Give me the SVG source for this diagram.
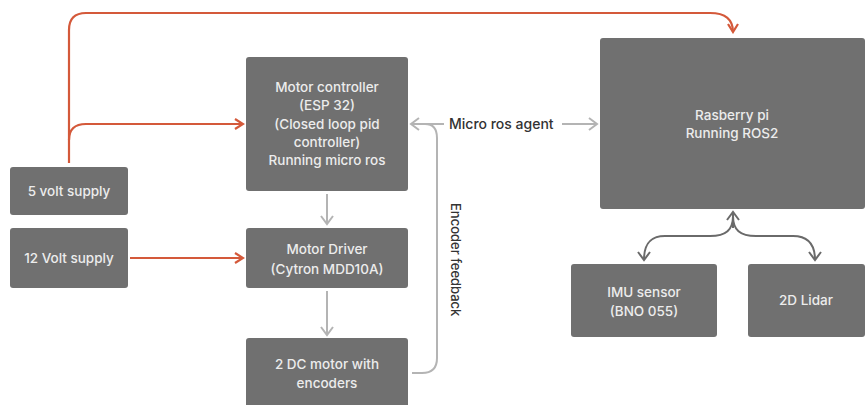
<svg xmlns="http://www.w3.org/2000/svg" width="867" height="405" viewBox="0 0 867 405">
<defs>
<style>
.box{fill:#707070}
.t{font-family:"Inter","Liberation Sans",sans-serif;font-size:13.5px;font-weight:500;fill:#ececec;text-anchor:middle}
.lbl{font-family:"Inter","Liberation Sans",sans-serif;font-size:14px;font-weight:500;fill:#333}
.or{fill:none;stroke:#d4593a;stroke-width:2.2}
.gr{fill:none;stroke:#b4b4b4;stroke-width:2}
.dk{fill:none;stroke:#6a6a6a;stroke-width:2}
</style>
<marker id="ao" markerWidth="12" markerHeight="12" refX="10" refY="6" orient="auto" markerUnits="userSpaceOnUse"><path d="M2,1 L10,6 L2,11" fill="none" stroke="#d4593a" stroke-width="2.2"/></marker>
<marker id="ag" markerWidth="14" markerHeight="14" refX="11" refY="7" orient="auto" markerUnits="userSpaceOnUse"><path d="M3,1 L11,7 L3,13" fill="none" stroke="#b4b4b4" stroke-width="2"/></marker>
<marker id="ad" markerWidth="14" markerHeight="14" refX="11" refY="7" orient="auto" markerUnits="userSpaceOnUse"><path d="M3,1 L11,7 L3,13" fill="none" stroke="#6a6a6a" stroke-width="2"/></marker>
</defs>
<rect width="867" height="405" fill="#ffffff"/>
<g id="connectors">
<path class="or" d="M69,163 L69,30 Q69,13 86,13 L710,13 Q733,13 733,32" marker-end="url(#ao)"/>
<path class="or" d="M69,140 Q69,124 86,124 L243,124" marker-end="url(#ao)"/>
<path class="or" d="M130,258 L243,258" marker-end="url(#ao)"/>
<path class="gr" d="M327,194 L327,224" marker-end="url(#ag)"/>
<path class="gr" d="M327,291 L327,335" marker-end="url(#ag)"/>
<path class="gr" d="M412,373 L422,373 Q437,373 437,358 L437,138 Q437,124 425,124 L411,124" marker-end="url(#ag)"/>
<path class="gr" d="M444,124 L413,124"/>
<path class="gr" d="M562,124 L597,124" marker-end="url(#ag)"/>
<path class="dk" d="M733,228 L733,212" marker-end="url(#ad)"/>
<path class="dk" d="M733,216 C733,230 726,236 710,236 L665,236 C651,236 644,243 644,260" marker-end="url(#ad)"/>
<path class="dk" d="M733,216 C733,230 740,236 756,236 L793,236 C807,236 815,243 815,260" marker-end="url(#ad)"/>
<text class="lbl" x="449" y="129">Micro ros agent</text>
<text class="lbl" transform="translate(451,203) rotate(90)" style="font-size:13px">Encoder feedback</text>
</g>
<g id="supply5"><rect class="box" x="10" y="167" width="118" height="48" rx="3"/><text class="t" x="69" y="196">5 volt supply</text></g>
<g id="supply12"><rect class="box" x="10" y="228" width="118" height="60" rx="3"/><text class="t" x="69" y="263">12 Volt supply</text></g>
<g id="motorcontroller"><rect class="box" x="246" y="57" width="162" height="134" rx="3"/>
<text class="t" x="327" y="92">Motor controller</text>
<text class="t" x="327" y="110">(ESP 32)</text>
<text class="t" x="327" y="129">(Closed loop pid</text>
<text class="t" x="327" y="147">controller)</text>
<text class="t" x="327" y="165">Running micro ros</text></g>
<g id="motordriver"><rect class="box" x="246" y="228" width="162" height="60" rx="3"/>
<text class="t" x="327" y="254">Motor Driver</text>
<text class="t" x="327" y="274">(Cytron MDD10A)</text></g>
<g id="dcmotor"><rect class="box" x="246" y="338" width="162" height="72" rx="3"/>
<text class="t" x="327" y="369">2 DC motor with</text>
<text class="t" x="327" y="388">encoders</text></g>
<g id="rpi"><rect class="box" x="600" y="38" width="265" height="171" rx="3"/>
<text class="t" x="732" y="120">Rasberry pi</text>
<text class="t" x="732" y="138">Running ROS2</text></g>
<g id="imu"><rect class="box" x="571" y="264" width="146" height="73" rx="3"/>
<text class="t" x="644" y="297">IMU sensor</text>
<text class="t" x="644" y="316">(BNO 055)</text></g>
<g id="lidar"><rect class="box" x="748" y="264" width="117" height="73" rx="3"/>
<text class="t" x="806" y="305">2D Lidar</text></g>
</svg>
